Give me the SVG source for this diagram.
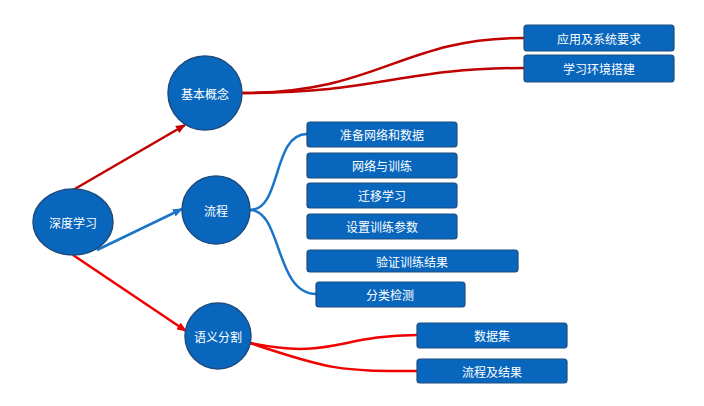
<svg xmlns="http://www.w3.org/2000/svg" width="704" height="406" viewBox="0 0 704 406">
<style>
.n{fill:#0866bd;stroke:#1d4c7e;stroke-width:1.5}
.b{fill:#0866bd;stroke:#1d4c7e;stroke-width:1.2}
.t{fill:#fff;font-family:"Noto Sans CJK SC","Noto Sans",sans-serif;font-size:12px;text-anchor:middle;dominant-baseline:central}
.c{fill:none;stroke-width:2.5}
</style>
<defs>
<marker id="ad" markerWidth="10" markerHeight="8" refX="9" refY="4" orient="auto" markerUnits="userSpaceOnUse"><path d="M0,0 L10,4 L0,8 Z" fill="#c00000"/></marker>
<marker id="ab" markerWidth="10" markerHeight="8" refX="9" refY="4" orient="auto" markerUnits="userSpaceOnUse"><path d="M0,0 L10,4 L0,8 Z" fill="#1a75c9"/></marker>
<marker id="ar" markerWidth="10" markerHeight="8" refX="9" refY="4" orient="auto" markerUnits="userSpaceOnUse"><path d="M0,0 L10,4 L0,8 Z" fill="#f00000"/></marker>
</defs>
<g id="connectors">
<path class="c" stroke="#c00000" d="M73,190 L185,125" marker-end="url(#ad)"/>
<path class="c" stroke="#1a75c9" d="M97,250 L182,209" marker-end="url(#ab)"/>
<path class="c" stroke="#f00000" d="M73,255 L186,331" marker-end="url(#ar)"/>
<path class="c" stroke="#c00000" d="M242,93 C380,93 400,38 524,38"/>
<path class="c" stroke="#c00000" d="M242,93 C380,93 400,68 524,68"/>
<path class="c" stroke="#1a75c9" d="M250,210 C282,210 272,134 307,134"/>
<path class="c" stroke="#1a75c9" d="M250,210 C282,210 275,294 316,294"/>
<path class="c" stroke="#f00000" d="M250,343 C330,360 340,335 417,335"/>
<path class="c" stroke="#f00000" d="M250,343 C330,370 340,371 417,371"/>
</g>
<g id="root"><ellipse class="n" cx="73" cy="222" rx="40" ry="33"/><text class="t" x="73" y="222">深度学习</text></g>
<g id="jbgn"><circle class="n" cx="205" cy="93" r="37"/><text class="t" x="205" y="93">基本概念</text></g>
<g id="lc"><circle class="n" cx="216" cy="210" r="34"/><text class="t" x="216" y="210">流程</text></g>
<g id="yyfg"><circle class="n" cx="218" cy="336" r="33"/><text class="t" x="218" y="336">语义分割</text></g>
<g id="b1"><rect class="b" x="524" y="25" width="150" height="26" rx="3"/><text class="t" x="599" y="38">应用及系统要求</text></g>
<g id="b2"><rect class="b" x="524" y="55" width="150" height="27" rx="3"/><text class="t" x="599" y="68.500">学习环境搭建</text></g>
<g id="b3"><rect class="b" x="307" y="122" width="150" height="25" rx="3"/><text class="t" x="382" y="134.500">准备网络和数据</text></g>
<g id="b4"><rect class="b" x="307" y="153" width="150" height="25" rx="3"/><text class="t" x="382" y="165.500">网络与训练</text></g>
<g id="b5"><rect class="b" x="307" y="183" width="150" height="25" rx="3"/><text class="t" x="382" y="195.500">迁移学习</text></g>
<g id="b6"><rect class="b" x="307" y="214" width="150" height="25" rx="3"/><text class="t" x="382" y="226.500">设置训练参数</text></g>
<g id="b7"><rect class="b" x="307" y="250" width="211" height="22" rx="3"/><text class="t" x="412" y="261">验证训练结果</text></g>
<g id="b8"><rect class="b" x="316" y="282" width="149" height="25" rx="3"/><text class="t" x="390" y="294.500">分类检测</text></g>
<g id="b9"><rect class="b" x="417" y="323" width="150" height="25" rx="3"/><text class="t" x="492" y="335.500">数据集</text></g>
<g id="b10"><rect class="b" x="417" y="359" width="150" height="24" rx="3"/><text class="t" x="492" y="371">流程及结果</text></g>
</svg>
